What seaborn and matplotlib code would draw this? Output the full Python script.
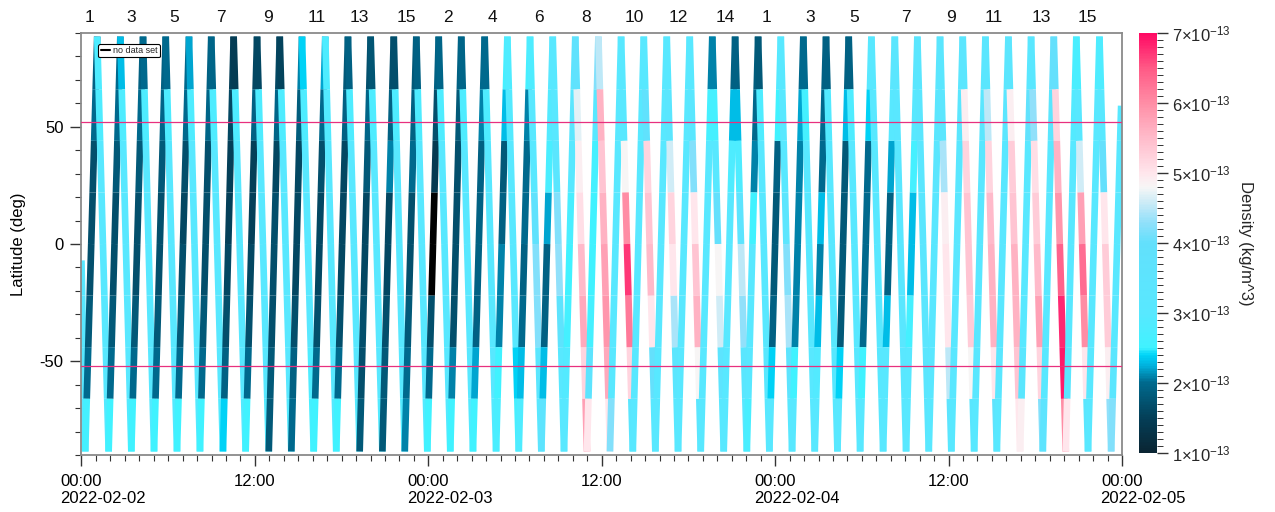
import numpy as np
import pandas as pd
import matplotlib
matplotlib.use("Agg")
import matplotlib.pyplot as plt
import seaborn as sns
from matplotlib.colors import LinearSegmentedColormap, Normalize
from matplotlib.lines import Line2D
from matplotlib.ticker import MultipleLocator
from matplotlib.cm import ScalarMappable

# ---------------- data ----------------
# hours since 2022-02-02 00:00 of the southern / northern turning points of the track
bottom_times = [0.26, 1.88, 3.45, 5.02, 6.61, 8.20, 9.79, 11.36, 12.96, 14.52, 16.07, 17.63,
                19.25, 20.82, 22.37, 23.93, 25.52, 27.09, 28.69, 30.26, 31.82, 33.39, 34.98,
                36.57, 38.15, 39.71, 41.28, 42.85, 44.44, 46.04, 47.60, 49.17, 50.74, 52.31,
                53.88, 55.47, 57.06, 58.63, 60.19, 61.77, 63.34, 64.95, 66.52, 68.11, 69.65, 71.25]
top_times = [1.09, 2.69, 4.26, 5.83, 7.44, 8.98, 10.53, 12.15, 13.72, 15.26, 16.87, 18.44,
             20.01, 21.61, 23.17, 24.72, 26.28, 27.90, 29.47, 31.04, 32.61, 34.17, 35.77,
             37.34, 38.91, 40.50, 42.09, 43.65, 45.23, 46.82, 48.39, 49.95, 51.52, 53.09,
             54.66, 56.28, 57.84, 59.41, 60.98, 62.55, 64.14, 65.71, 67.28, 68.84, 70.44]
turn_lat = 88.5
track_start = (0.0, -7.0)
track_end = (71.94, 59.0)

# latitude bands (south -> north) in which density is given
band_edges = [-88.5, -66, -44, -22, 0, 22, 44, 66, 88.5]

# density (1e-13 kg/m^3) per band, south -> north; ascending passes
asc_day1 = [
    [2.6, 2.0, 1.8, 1.7, 1.7, 1.7, 2.0, 1.9],
    [2.5, 2.0, 1.8, 1.7, 1.7, 1.8, 2.0, 2.0],
    [2.5, 2.0, 1.8, 1.7, 1.7, 1.8, 2.0, 1.9],
    [2.5, 2.0, 1.8, 1.7, 1.7, 1.8, 1.95, 1.9],
    [2.5, 2.0, 1.8, 1.7, 1.6, 1.7, 2.0, 2.0],
    [2.5, 2.0, 1.8, 1.7, 1.7, 1.7, 1.95, 1.9],
    [2.4, 1.9, 1.7, 1.6, 1.5, 1.5, 1.6, 1.5],
    [2.5, 2.0, 1.7, 1.6, 1.5, 1.5, 1.9, 1.6],
    [1.8, 1.8, 1.7, 1.7, 1.7, 1.6, 1.95, 1.6],
    [2.0, 1.9, 1.7, 1.6, 1.6, 1.6, 1.85, 2.1],
    [2.5, 2.0, 1.7, 1.6, 1.6, 1.7, 2.0, 2.2],
    [2.5, 2.0, 1.7, 1.6, 1.6, 1.6, 1.9, 1.8],
    [1.8, 1.7, 1.7, 1.6, 1.6, 1.8, 1.95, 1.7],
    [1.8, 1.8, 1.7, 1.6, 1.6, 2.1, 1.9, 1.7],
    [2.1, 2.0, 1.8, 1.7, 1.7, 2.0, 1.9, 1.8],
]
asc_day2 = [
    [2.5, 2.0, 1.7, 0.5, 0.5, 1.4, 1.7, 1.9],
    [2.5, 2.1, 1.7, 1.7, 1.7, 1.7, 1.8, 1.9],
    [2.5, 2.2, 1.9, 1.9, 1.9, 1.9, 2.1, 2.0],
    [2.7, 2.5, 2.1, 2.1, 1.9, 1.8, 2.3, 2.6],
    [2.8, 2.3, 2.0, 1.9, 2.0, 2.0, 2.1, 2.6],
    [3.5, 2.3, 1.9, 1.9, 2.2, 2.7, 2.9, 3.0],
    [3.0, 2.9, 2.6, 2.5, 2.7, 3.0, 3.2, 3.5],
    [5.0, 3.5, 2.6, 2.5, 2.5, 2.6, 3.0, 4.2],
    [4.2, 3.0, 3.0, 3.0, 3.0, 3.0, 3.0, 3.0],
    [3.0, 3.0, 3.0, 3.0, 3.0, 3.0, 3.0, 3.0],
    [3.0, 3.0, 3.0, 3.0, 3.0, 3.0, 3.0, 3.0],
    [3.0, 3.0, 3.0, 3.0, 3.0, 3.0, 3.0, 3.0],
    [3.0, 3.0, 3.0, 3.0, 3.0, 3.0, 2.6, 2.1],
    [3.0, 3.0, 3.0, 3.0, 3.0, 2.8, 2.3, 1.9],
    [2.7, 3.0, 3.0, 3.0, 2.5, 2.1, 2.0, 1.85],
]
asc_day3 = [
    [3.0, 2.4, 1.9, 1.8, 1.8, 1.9, 2.5, 2.9],
    [3.0, 2.5, 2.1, 2.1, 2.1, 2.1, 2.2, 2.0],
    [3.0, 2.9, 2.3, 2.1, 2.3, 2.0, 2.0, 1.9],
    [3.0, 2.4, 1.8, 1.8, 1.8, 1.8, 2.3, 1.9],
    [3.0, 2.5, 2.0, 2.0, 2.0, 2.0, 2.4, 3.0],
    [3.0, 3.0, 2.3, 1.9, 1.9, 2.2, 3.0, 3.2],
    [3.0, 3.0, 2.6, 2.3, 2.3, 2.6, 3.0, 3.2],
    [3.0, 3.1, 3.1, 3.1, 3.1, 3.2, 3.2, 3.2],
    [3.0, 3.1, 3.1, 3.1, 3.1, 3.1, 3.2, 3.3],
    [3.0, 3.1, 3.1, 3.1, 3.1, 3.1, 3.2, 3.2],
    [3.0, 3.1, 3.1, 3.1, 3.1, 3.1, 3.2, 3.3],
    [4.9, 3.2, 3.0, 3.0, 3.0, 3.0, 3.8, 3.1],
    [3.5, 3.0, 3.0, 3.0, 3.0, 3.0, 3.2, 4.0],
    [5.0, 3.2, 3.0, 3.0, 3.0, 3.0, 2.9, 2.7],
    [3.0, 3.0, 3.0, 3.0, 3.0, 3.0, 3.0, 2.8],
    [4.2, 3.2, 3.0, 3.0, 3.0, 3.0, 3.0, 3.0],
]
# descending passes (first row = partial pass at the start of the record)
desc_day1 = [
    [3.0, 3.0, 3.0, 3.0, 3.0, 3.0, 3.0, 3.0],
    [2.9, 3.0, 3.0, 3.0, 3.0, 3.0, 2.8, 2.8],
    [2.9, 3.0, 3.0, 3.0, 3.0, 3.0, 2.8, 2.3],
    [2.9, 3.0, 3.0, 3.0, 3.0, 3.0, 2.8, 2.0],
    [2.9, 3.0, 3.0, 3.0, 3.0, 3.0, 2.8, 2.0],
    [2.9, 3.0, 3.0, 3.0, 3.0, 3.0, 2.8, 2.2],
    [2.9, 3.0, 3.0, 3.0, 3.0, 3.0, 2.8, 1.95],
    [2.9, 3.0, 3.0, 3.0, 3.0, 3.0, 2.8, 1.45],
    [2.9, 3.0, 3.0, 3.0, 3.0, 3.0, 2.8, 1.6],
    [2.9, 3.0, 3.0, 3.0, 3.0, 3.0, 2.8, 1.55],
    [2.6, 2.8, 3.0, 3.0, 3.0, 3.0, 2.8, 2.4],
    [2.9, 3.0, 3.0, 3.0, 3.0, 3.0, 2.9, 2.8],
    [2.9, 3.0, 3.0, 3.0, 3.0, 3.0, 2.8, 1.9],
    [2.9, 3.0, 3.0, 3.0, 3.0, 3.0, 2.8, 1.75],
    [2.9, 3.0, 3.0, 3.0, 3.0, 3.0, 2.8, 1.7],
    [2.9, 3.0, 3.0, 3.0, 3.0, 3.0, 2.8, 1.9],
]
desc_day2 = [
    [2.9, 3.0, 3.0, 3.0, 3.0, 3.0, 2.8, 1.95],
    [2.9, 3.0, 3.0, 3.0, 3.0, 3.0, 2.8, 1.95],
    [2.9, 3.0, 3.0, 3.0, 3.0, 3.0, 2.8, 2.0],
    [2.6, 2.4, 3.0, 3.0, 3.0, 3.0, 2.9, 2.8],
    [3.0, 3.2, 4.2, 4.2, 3.8, 3.0, 3.0, 2.8],
    [3.0, 3.0, 3.6, 4.3, 4.2, 3.2, 3.0, 3.0],
    [5.8, 5.2, 5.7, 5.5, 5.1, 4.9, 4.7, 3.8],
    [5.0, 5.7, 5.9, 5.8, 5.6, 5.4, 5.6, 4.5],
    [3.2, 5.2, 6.2, 6.7, 6.0, 4.8, 3.0, 3.0],
    [3.0, 4.0, 5.0, 5.5, 5.4, 5.2, 3.8, 3.0],
    [3.0, 3.2, 4.4, 5.0, 5.2, 4.6, 3.2, 3.0],
    [3.2, 4.8, 5.6, 5.4, 5.0, 4.2, 3.1, 3.0],
    [3.0, 3.5, 4.6, 4.8, 4.0, 3.0, 2.6, 2.1],
    [3.0, 3.2, 4.3, 4.5, 3.5, 2.8, 2.3, 1.9],
    [3.0, 3.0, 3.0, 3.0, 3.0, 3.0, 2.8, 1.8],
]
desc_day3 = [
    [3.0, 3.5, 4.4, 4.2, 3.3, 3.0, 3.0, 3.0],
    [3.0, 3.0, 3.0, 3.0, 3.0, 3.0, 2.6, 2.0],
    [3.0, 3.0, 3.0, 3.0, 3.0, 3.0, 2.9, 1.9],
    [3.0, 3.0, 3.0, 3.0, 3.0, 3.0, 2.8, 1.9],
    [3.0, 3.0, 3.0, 3.0, 3.0, 3.0, 3.0, 3.0],
    [3.1, 3.1, 3.1, 3.1, 3.1, 3.1, 3.1, 3.2],
    [3.2, 3.2, 3.2, 3.2, 3.2, 3.2, 3.2, 3.2],
    [3.5, 4.5, 5.0, 5.0, 4.9, 4.4, 3.3, 3.2],
    [3.2, 4.8, 5.3, 5.4, 5.4, 5.2, 4.9, 3.3],
    [3.6, 5.0, 5.6, 5.6, 5.5, 5.2, 4.5, 3.2],
    [5.0, 5.4, 5.6, 5.6, 5.4, 5.3, 4.9, 3.3],
    [4.2, 5.2, 5.8, 5.5, 5.3, 5.1, 4.3, 3.1],
    [6.0, 6.9, 6.8, 6.4, 5.9, 5.6, 5.2, 4.0],
    [3.2, 5.0, 6.0, 6.3, 5.8, 4.6, 3.0, 2.7],
    [4.3, 4.9, 5.3, 5.3, 5.0, 4.0, 3.0, 2.8],
]

orbit_label_times = [0.54, 3.47, 6.42, 9.65, 12.93, 16.28, 19.20, 22.51, 25.38, 28.41, 31.66,
                     34.91, 38.24, 41.28, 44.53, 47.37, 50.42, 53.46, 57.06, 60.17, 63.15,
                     66.40, 69.58]
orbit_labels = ["1", "3", "5", "7", "9", "11", "13", "15", "2", "4", "6", "8", "10", "12",
                "14", "1", "3", "5", "7", "9", "11", "13", "15"]

ref_lats = [52.0, -52.0]
time_ticks = [0, 12, 24, 36, 48, 60, 72]
time_labels = ["00:00", "12:00", "00:00", "12:00", "00:00", "12:00", "00:00"]
day_ticks = [0, 24, 48, 72]
day_labels = ["2022-02-02", "2022-02-03", "2022-02-04", "2022-02-05"]
lat_ticks = [-50, 0, 50]
dens_ticks = [1, 2, 3, 4, 5, 6, 7]

# ---------------- style ----------------
sns.set_theme(style="white")
plt.rcParams["font.family"] = ["Liberation Sans", "DejaVu Sans"]
plt.rcParams["mathtext.default"] = "regular"

cmap = LinearSegmentedColormap.from_list("dens", [
    (0.0, "#0a2533"), (0.0833, "#043f58"), (0.1667, "#006a8e"), (0.2083, "#00b4e0"),
    (0.2333, "#00d4f8"), (0.25, "#40f2ff"), (0.3333, "#58e8ff"), (0.5, "#62e0fc"),
    (0.55, "#92e0fa"), (0.60, "#d0ecf6"), (0.6333, "#f6f6f6"), (0.6667, "#ffe6ec"),
    (0.75, "#ffbccb"), (0.8333, "#ff8ea6"), (0.9167, "#ff5a86"), (1.0, "#ff0a64")])
cmap.set_under("black")
norm = Normalize(vmin=1, vmax=7)

fig = plt.figure(figsize=(12.75, 5.12), dpi=100)
ax = fig.add_axes([0.0639, 0.1113, 0.8161, 0.8242])
cax = fig.add_axes([0.8933, 0.1152, 0.0141, 0.8203])

# ---------------- build passes ----------------
asc_rows = asc_day1 + asc_day2 + asc_day3
desc_rows = desc_day1 + desc_day2 + desc_day3

passes = [((track_start[0], track_start[1]), (bottom_times[0], -turn_lat), desc_rows[0])]
for k in range(len(bottom_times)):
    p0 = (bottom_times[k], -turn_lat)
    p1 = (top_times[k], turn_lat) if k < len(top_times) else track_end
    passes.append((p0, p1, asc_rows[k]))
    if k < len(top_times):
        passes.append(((top_times[k], turn_lat), (bottom_times[k + 1], -turn_lat), desc_rows[k + 1]))


def pass_frame(p0, p1, vals):
    (ta, la), (tb, lb) = p0, p1
    lo_lat, hi_lat = min(la, lb), max(la, lb)
    rows = []
    for i in range(len(band_edges) - 1):
        lo = max(band_edges[i], lo_lat)
        hi = min(band_edges[i + 1], hi_lat)
        if hi <= lo:
            continue
        t_lo = ta + (lo - la) / (lb - la) * (tb - ta)
        t_hi = ta + (hi - la) / (lb - la) * (tb - ta)
        rows.append({"t": t_lo, "lat": lo, "dens": vals[i], "seg": i})
        rows.append({"t": t_hi, "lat": hi, "dens": vals[i], "seg": i})
    return pd.DataFrame(rows)


for p0, p1, vals in passes:
    df = pass_frame(p0, p1, vals)
    sns.lineplot(data=df, x="t", y="lat", hue="dens", units="seg", estimator=None,
                 palette=cmap, hue_norm=norm, legend=False, linewidth=4.8,
                 solid_capstyle="butt", sort=False, ax=ax)

for yl in ref_lats:
    ax.axhline(yl, color="#e8307e", lw=0.9, zorder=5)

# ---------------- axes ----------------
ax.set_xlim(0, 72)
ax.set_ylim(-90, 90)
ax.set_xlabel("")
ax.set_ylabel("Latitude (deg)", fontsize=12, color="black", labelpad=10)
ax.set_xticks(time_ticks)
ax.set_xticklabels(time_labels)
ax.xaxis.set_minor_locator(MultipleLocator(1))
ax.set_yticks(lat_ticks)
ax.set_yticklabels([str(v) for v in lat_ticks])
ax.yaxis.set_minor_locator(MultipleLocator(10))
ax.tick_params(axis="both", which="major", direction="out", length=8, width=1,
               color="#333333", labelsize=12, labelcolor="black", bottom=True, left=True)
ax.tick_params(axis="both", which="minor", direction="out", length=4, width=0.8,
               color="#333333", bottom=True, left=True)
ax.tick_params(axis="x", which="major", pad=6)
ax.tick_params(axis="y", which="major", pad=5)
for s in ax.spines.values():
    s.set_color("#8a8a8a")
    s.set_linewidth(1.3)
    s.set_visible(True)

for t, lab in zip(day_ticks, day_labels):
    ax.annotate(lab, xy=(t, 0), xycoords=("data", "axes fraction"),
                xytext=(-15.5, -31), textcoords="offset points",
                ha="left", va="center", fontsize=12, color="black", annotation_clip=False)

sec = ax.secondary_xaxis("top")
sec.set_xticks(orbit_label_times)
sec.set_xticklabels(orbit_labels)
sec.tick_params(length=0, pad=6, labelsize=12.5, labelcolor="#111111")
sec.spines["top"].set_visible(False)

leg = ax.legend(handles=[Line2D([0], [0], color="black", lw=1.5)], labels=["no data set"],
                loc="upper left", bbox_to_anchor=(0.012, 0.985), fontsize=6.5,
                handlelength=1.0, handletextpad=0.4, borderpad=0.25, frameon=True,
                fancybox=True, edgecolor="black", framealpha=1)
leg.get_frame().set_linewidth(0.8)

# ---------------- colorbar ----------------
sm = ScalarMappable(norm=norm, cmap=cmap)
cb = fig.colorbar(sm, cax=cax)
cb.set_ticks(dens_ticks)
cb.set_ticklabels([f"{v}×10$^{{-13}}$" for v in dens_ticks])
cax.yaxis.set_minor_locator(MultipleLocator(0.1))
cax.tick_params(which="major", length=8, width=1, color="#333333", labelsize=12, pad=3)
cax.tick_params(which="minor", length=4, width=0.7, color="#333333")
cb.outline.set_visible(False)
cb.set_label("Density (kg/m^3)", rotation=270, fontsize=12, labelpad=16)

fig.savefig("out.png", dpi=100)
